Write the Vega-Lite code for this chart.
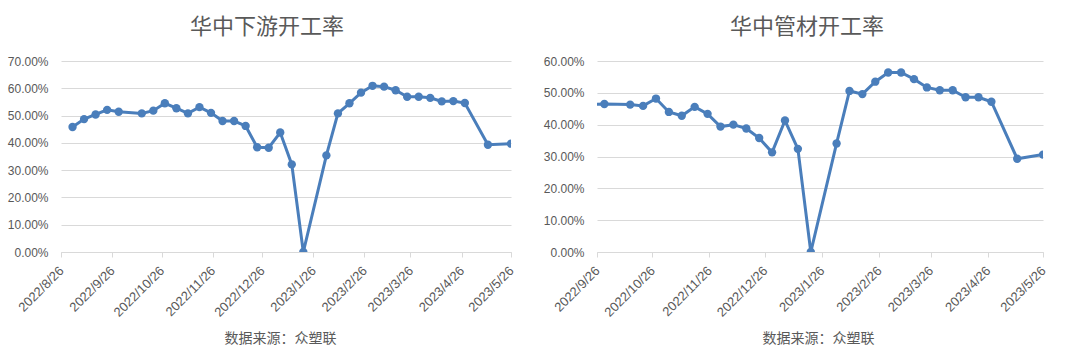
{
  "$schema": "https://vega.github.io/schema/vega-lite/v6.json",
  "autosize": {"type": "pad"},
  "padding": {"left": 7, "top": 16, "right": 0, "bottom": 0},
  "background": "white",
  "spacing": 86,
  "bounds": "flush",
  "config": {
    "view": {"stroke": null},
    "axis": {
      "labelFont": "Liberation Sans",
      "labelFontSize": 12,
      "labelColor": "#595959",
      "gridColor": "#d9d9d9",
      "domainColor": "#d9d9d9",
      "tickColor": "#d9d9d9"
    },
    "title": {
      "font": "Noto Sans CJK SC",
      "fontSize": 22,
      "fontWeight": "normal",
      "color": "#595959",
      "anchor": "middle",
      "offset": 16
    }
  },
  "datasets": {
    "down": [
      {"date": "2022/09/02", "rate": 0.458},
      {"date": "2022/09/09", "rate": 0.487},
      {"date": "2022/09/16", "rate": 0.504},
      {"date": "2022/09/23", "rate": 0.521},
      {"date": "2022/09/30", "rate": 0.514},
      {"date": "2022/10/14", "rate": 0.508},
      {"date": "2022/10/21", "rate": 0.518},
      {"date": "2022/10/28", "rate": 0.545},
      {"date": "2022/11/04", "rate": 0.527},
      {"date": "2022/11/11", "rate": 0.508},
      {"date": "2022/11/18", "rate": 0.531},
      {"date": "2022/11/25", "rate": 0.510},
      {"date": "2022/12/02", "rate": 0.480},
      {"date": "2022/12/09", "rate": 0.480},
      {"date": "2022/12/16", "rate": 0.462},
      {"date": "2022/12/23", "rate": 0.384},
      {"date": "2022/12/30", "rate": 0.382},
      {"date": "2023/01/06", "rate": 0.438},
      {"date": "2023/01/13", "rate": 0.321},
      {"date": "2023/01/20", "rate": 0.0},
      {"date": "2023/02/03", "rate": 0.354},
      {"date": "2023/02/10", "rate": 0.508},
      {"date": "2023/02/17", "rate": 0.545},
      {"date": "2023/02/24", "rate": 0.584},
      {"date": "2023/03/03", "rate": 0.609},
      {"date": "2023/03/10", "rate": 0.606},
      {"date": "2023/03/17", "rate": 0.593},
      {"date": "2023/03/24", "rate": 0.569},
      {"date": "2023/03/31", "rate": 0.569},
      {"date": "2023/04/07", "rate": 0.565},
      {"date": "2023/04/14", "rate": 0.552},
      {"date": "2023/04/21", "rate": 0.553},
      {"date": "2023/04/28", "rate": 0.546},
      {"date": "2023/05/12", "rate": 0.393},
      {"date": "2023/05/26", "rate": 0.397}
    ],
    "pipe": [
      {"date": "2022/09/23", "rate": 0.464},
      {"date": "2022/09/30", "rate": 0.465},
      {"date": "2022/10/14", "rate": 0.463},
      {"date": "2022/10/21", "rate": 0.459},
      {"date": "2022/10/28", "rate": 0.482},
      {"date": "2022/11/04", "rate": 0.440},
      {"date": "2022/11/11", "rate": 0.428},
      {"date": "2022/11/18", "rate": 0.456},
      {"date": "2022/11/25", "rate": 0.434},
      {"date": "2022/12/02", "rate": 0.394},
      {"date": "2022/12/09", "rate": 0.400},
      {"date": "2022/12/16", "rate": 0.388},
      {"date": "2022/12/23", "rate": 0.358},
      {"date": "2022/12/30", "rate": 0.313},
      {"date": "2023/01/06", "rate": 0.413},
      {"date": "2023/01/13", "rate": 0.324},
      {"date": "2023/01/20", "rate": 0.0},
      {"date": "2023/02/03", "rate": 0.341},
      {"date": "2023/02/10", "rate": 0.506},
      {"date": "2023/02/17", "rate": 0.496},
      {"date": "2023/02/24", "rate": 0.535},
      {"date": "2023/03/03", "rate": 0.564},
      {"date": "2023/03/10", "rate": 0.564},
      {"date": "2023/03/17", "rate": 0.543},
      {"date": "2023/03/24", "rate": 0.517},
      {"date": "2023/03/31", "rate": 0.508},
      {"date": "2023/04/07", "rate": 0.508},
      {"date": "2023/04/14", "rate": 0.486},
      {"date": "2023/04/21", "rate": 0.486},
      {"date": "2023/04/28", "rate": 0.472},
      {"date": "2023/05/12", "rate": 0.293},
      {"date": "2023/05/26", "rate": 0.306}
    ]
  },
  "hconcat": [
    {
      "width": 450,
      "height": 191,
      "title": {"text": "华中下游开工率", "dx": -19},
      "data": {"name": "down"},
      "encoding": {
        "x": {
          "field": "date",
          "type": "temporal",
          "scale": {"domain": [
            {"year": 2022, "month": 8, "date": 26},
            {"year": 2023, "month": 5, "date": 26}
          ]},
          "axis": {
            "values": [
              {"year": 2022, "month": 8, "date": 26},
              {"year": 2022, "month": 9, "date": 26},
              {"year": 2022, "month": 10, "date": 26},
              {"year": 2022, "month": 11, "date": 26},
              {"year": 2022, "month": 12, "date": 26},
              {"year": 2023, "month": 1, "date": 26},
              {"year": 2023, "month": 2, "date": 26},
              {"year": 2023, "month": 3, "date": 26},
              {"year": 2023, "month": 4, "date": 26},
              {"year": 2023, "month": 5, "date": 26}
            ],
            "format": "%Y/%-m/%-d",
            "labelAngle": -45,
            "labelFontSize": 13,
            "labelOffset": -4,
            "labelOverlap": false,
            "labelFlush": false,
            "labelPadding": 7,
            "tickSize": 5,
            "grid": false,
            "title": "数据来源：众塑联",
            "titleFont": "Noto Sans CJK SC",
            "titleFontSize": 14,
            "titleFontWeight": "normal",
            "titleColor": "#595959",
            "titleX": 219,
            "titleY": 86,
            "titleBaseline": "middle",
            "titleAlign": "center"
          }
        },
        "y": {
          "field": "rate",
          "type": "quantitative",
          "scale": {"domain": [0, 0.7], "nice": false},
          "axis": {
            "values": [0, 0.1, 0.2, 0.3, 0.4, 0.5, 0.6, 0.7],
            "format": ".2%",
            "domain": false,
            "ticks": false,
            "labelPadding": 13,
            "title": null
          }
        }
      },
      "layer": [
        {"mark": {"type": "line", "color": "#4a7ebb", "strokeWidth": 3, "clip": true}},
        {"mark": {"type": "point", "filled": true, "opacity": 1, "color": "#4a7ebb", "size": 70, "clip": true}}
      ]
    },
    {
      "width": 446,
      "height": 191,
      "title": {"text": "华中管材开工率", "dx": -13},
      "data": {"name": "pipe"},
      "encoding": {
        "x": {
          "field": "date",
          "type": "temporal",
          "scale": {"domain": [
            {"year": 2022, "month": 9, "date": 26},
            {"year": 2023, "month": 5, "date": 26}
          ]},
          "axis": {
            "values": [
              {"year": 2022, "month": 9, "date": 26},
              {"year": 2022, "month": 10, "date": 26},
              {"year": 2022, "month": 11, "date": 26},
              {"year": 2022, "month": 12, "date": 26},
              {"year": 2023, "month": 1, "date": 26},
              {"year": 2023, "month": 2, "date": 26},
              {"year": 2023, "month": 3, "date": 26},
              {"year": 2023, "month": 4, "date": 26},
              {"year": 2023, "month": 5, "date": 26}
            ],
            "format": "%Y/%-m/%-d",
            "labelAngle": -45,
            "labelFontSize": 13,
            "labelOffset": -4,
            "labelOverlap": false,
            "labelFlush": false,
            "labelPadding": 7,
            "tickSize": 5,
            "grid": false,
            "title": "数据来源：众塑联",
            "titleFont": "Noto Sans CJK SC",
            "titleFontSize": 14,
            "titleFontWeight": "normal",
            "titleColor": "#595959",
            "titleX": 221,
            "titleY": 86,
            "titleBaseline": "middle",
            "titleAlign": "center"
          }
        },
        "y": {
          "field": "rate",
          "type": "quantitative",
          "scale": {"domain": [0, 0.6], "nice": false},
          "axis": {
            "values": [0, 0.1, 0.2, 0.3, 0.4, 0.5, 0.6],
            "format": ".2%",
            "domain": false,
            "ticks": false,
            "labelPadding": 13,
            "title": null
          }
        }
      },
      "layer": [
        {"mark": {"type": "line", "color": "#4a7ebb", "strokeWidth": 3, "clip": true}},
        {"mark": {"type": "point", "filled": true, "opacity": 1, "color": "#4a7ebb", "size": 70, "clip": true}}
      ]
    }
  ]
}
